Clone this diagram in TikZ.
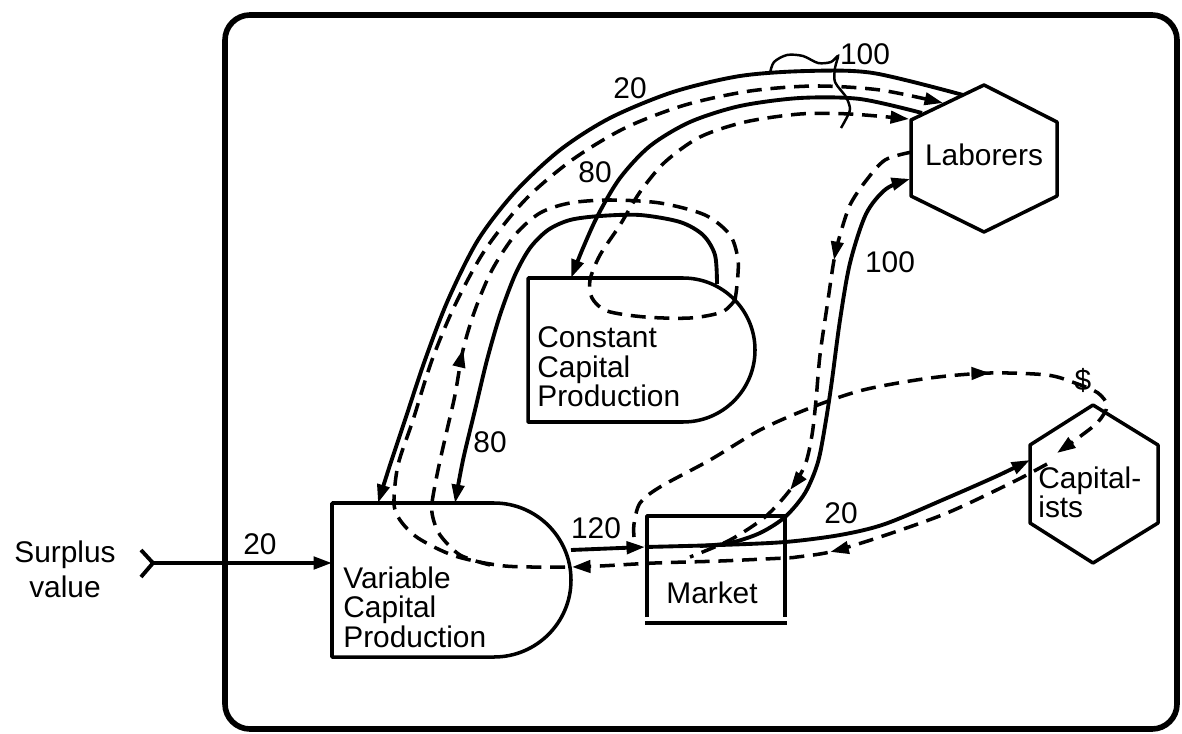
\documentclass[tikz,border=0pt]{standalone}
\usepackage{fontspec}
\setmainfont{Liberation Sans}
\usetikzlibrary{arrows.meta,decorations.markings}

\begin{document}
\begin{tikzpicture}[
  x=0.02cm,
  y=-0.02cm,
  flowTip/.style={-{Triangle[length=10.5pt,width=7pt]}},
  unitBorder/.style={line width=2pt, line join=round},
  frameBorder/.style={line width=3.2pt, rounded corners=0.5cm},
  solidFlow/.style={line width=2.2pt},
  moneyFlow/.style={line width=2pt, dash pattern=on 8.5pt off 5pt},
  midArrow/.style={postaction={decorate, decoration={markings, mark=at position #1 with {\arrow{Triangle[length=10.5pt,width=7pt]}}}}},
  unitText/.style={font=\fontsize{17}{16.7}\selectfont, inner sep=0pt},
  flowLabel/.style={font=\fontsize{17}{17}\selectfont, inner sep=0pt},
  braceLine/.style={line width=1.4pt}
]
\useasboundingbox (0,0) rectangle (1182,733);
\draw[frameBorder] (225,15) rectangle (1177,729);

\draw[unitBorder] (332,657) -- (332,503) -- (494,503) .. controls (536.5,503) and (571,537.5) .. (571,580) .. controls (571,622.5) and (536.5,657) .. (494,657) -- cycle;
\draw[unitBorder] (528,422) -- (528,278) -- (683,278) .. controls (722.8,278) and (755,310.2) .. (755,350) .. controls (755,389.8) and (722.8,422) .. (683,422) -- cycle;
\draw[unitBorder] (647,617) -- (647,516) -- (785,516) -- (785,617);
\draw[unitBorder] (645,623) -- (787,623);
\draw[unitBorder] (984,85) -- (1057,122) -- (1057,196) -- (984,232) -- (911,196) -- (911,120) -- cycle;
\draw[unitBorder] (1093,405) -- (1158,445) -- (1158,523) -- (1093,563) -- (1030,523) -- (1030,445) -- cycle;
\draw[solidFlow, line join=round] (141,550) -- (153,563) -- (141,577);

\node[unitText, align=left, anchor=west] (vcp) at (343,607) {Variable\\Capital\\Production};
\node[unitText, align=left, anchor=west] (ccp) at (537,367) {Constant\\Capital\\Production};
\node[unitText] (mkt) at (712,593) {Market};
\node[unitText] (lab) at (984,155) {Laborers};
\node[unitText, align=left, anchor=west] (cap) at (1038,492) {Capital-\\ists};
\node[unitText, align=center, font=\fontsize{17}{19.8}\selectfont] (surplus) at (65,569) {Surplus\\value};

\node[flowLabel] (lSurplus) at (260,544) {20};
\node[flowLabel] (lVar) at (596,528) {120};
\node[flowLabel] (lCap) at (841,513) {20};
\node[flowLabel] (lLabMkt) at (890,262) {100};
\node[flowLabel] (lCcpVar) at (490,442) {80};
\node[flowLabel] (lLabCcp) at (595,172) {80};
\node[flowLabel] (lLabVar) at (630,88) {20};
\node[flowLabel] (lWage) at (865,54) {100};
\node[flowLabel] (lDollar) at (1083,380) {\$};

\coordinate (srcTip) at (153,563);
\coordinate (vcpIn) at (332,563);
\coordinate (vcpOut) at (571,550);
\coordinate (mktIn) at (645,547);
\coordinate (mktMid) at (700,546);
\coordinate (capIn) at (1030,460);
\coordinate (labIn) at (910,179);
\coordinate (labOutA) at (963,95);
\coordinate (labOutB) at (922,113);
\coordinate (vcpTopA) at (378,503);
\coordinate (vcpTopD) at (455,503);
\coordinate (ccpTop) at (571,278);
\coordinate (ccpOut) at (717,284);
\coordinate (vcpMoney) at (565,567);
\coordinate (vcpSplit) at (490,565);
\coordinate (labMoneyA) at (943,103);
\coordinate (labMoneyB) at (909,119);
\coordinate (ccpMoney) at (735,300);
\coordinate (labMoneyOut) at (912,152);
\coordinate (mktMoney) at (690,557);
\coordinate (mktMoneyOut) at (634,537);
\coordinate (capMoneyIn) at (1057,453);
\coordinate (capMoneyOut) at (1047,464);
\coordinate (vcpMoneyIn) at (572,567);

\draw[solidFlow, flowTip] (srcTip) -- (vcpIn);
\draw[solidFlow, flowTip] (vcpOut) -- (mktIn);
\draw[solidFlow, flowTip] plot[smooth] coordinates {(mktIn) (720,545) (785,542) (840,535) (885,524) (947,498) (997,476) (capIn)};
\draw[solidFlow, flowTip] plot[smooth] coordinates {(mktMid) (730,543) (760,533) (785,517) (805,493) (818,462) (826,420) (832,380) (840,320) (850,263) (866,214) (886,189) (labIn)};
\draw[solidFlow, flowTip] plot[smooth] coordinates {(labOutA) (873,73) (807,71) (740,76) (673,92) (610,118) (560,150) (515,192) (478,240) (448,300) (425,360) (405,420) (390,465) (vcpTopA)};
\draw[solidFlow, flowTip] plot[smooth] coordinates {(labOutB) (860,99) (800,98) (740,106) (690,122) (650,146) (620,178) (598,215) (583,248) (ccpTop)};
\draw[solidFlow, flowTip] plot[smooth] coordinates {(ccpOut) (715,255) (703,235) (680,222) (640,215) (600,216) (570,220) (548,230) (530,248) (515,275) (500,315) (487,360) (475,410) (463,460) (vcpTopD)};

\draw[moneyFlow, flowTip] plot[smooth] coordinates {(vcpMoney) (505,566) (455,556) (418,538) (400,520) (394,503) (398,465) (413,420) (432,360) (455,305) (485,250) (525,200) (572,160) (625,128) (685,105) (750,91) (815,86) (880,90) (labMoneyA)};
\draw[moneyFlow, flowTip] plot[smooth] coordinates {(ccpMoney) (722,312) (690,318) (645,317) (607,311) (592,298) (590,280) (600,255) (620,225) (640,192) (665,162) (700,137) (745,122) (800,114) (850,114) (labMoneyB)};
\draw[moneyFlow, midArrow=0.37] plot[smooth] coordinates {(vcpSplit) (460,555) (440,535) (433,518) (432,503) (438,470) (447,430) (455,395) (463,350) (475,310) (492,270) (515,235) (540,213) (570,203) (610,200) (660,203) (705,215) (730,235) (738,260) (737,285) (ccpMoney)};
\draw[moneyFlow, midArrow=0.285, midArrow=0.756] plot[smooth] coordinates {(labMoneyOut) (885,160) (865,182) (850,205) (840,235) (834,260) (828,300) (820,355) (816,400) (812,435) (805,465) (790,490) (765,517) (730,540) (mktMoney)};
\draw[moneyFlow, flowTip, midArrow=0.677] plot[smooth] coordinates {(mktMoneyOut) (634,524) (640,503) (660,487) (710,460) (760,430) (810,408) (863,390) (930,378) (990,373) (1047,375) (1075,383) (1098,393) (1107,406) (1098,422) (1078,438) (capMoneyIn)};
\draw[moneyFlow, flowTip, midArrow=0.475] plot[smooth] coordinates {(capMoneyOut) (1013,482) (947,513) (880,537) (830,552) (797,557) (785,558) (720,561) (655,563) (600,566) (vcpMoneyIn)};

\draw[braceLine] plot[smooth] coordinates {(770,73) (774,62) (787,55) (803,56) (818,63) (831,62) (838,56) (835,68) (835,82) (846,97) (850,109) (846,119) (841,128)};
\end{tikzpicture}
\end{document}
